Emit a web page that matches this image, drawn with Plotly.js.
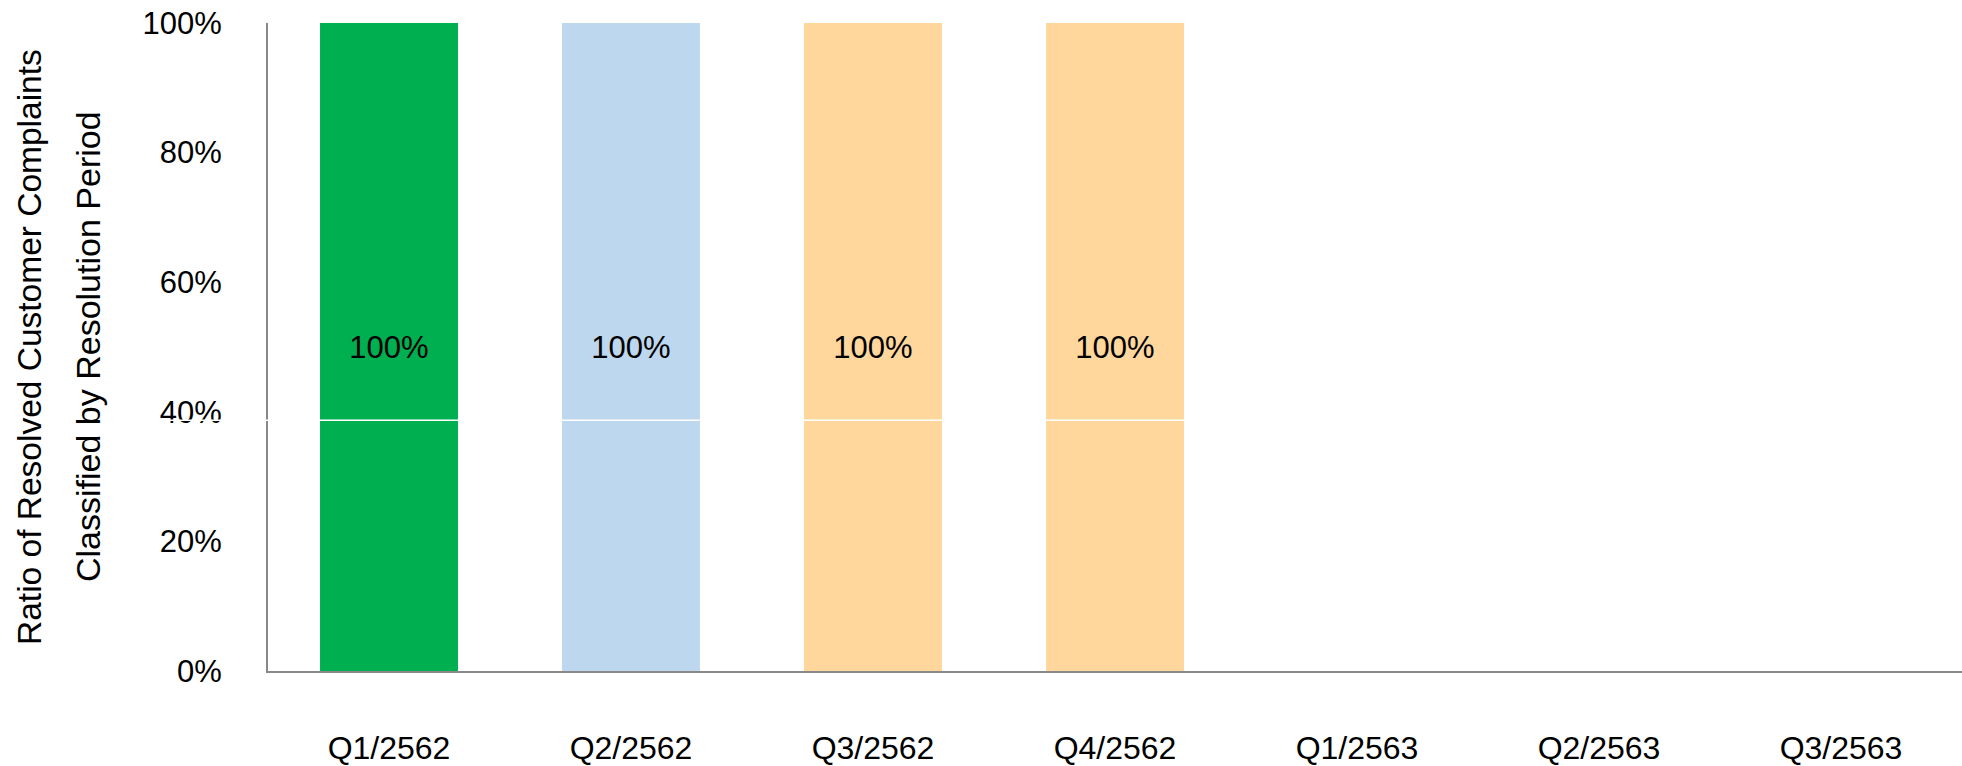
<!DOCTYPE html>
<html>
<head>
<meta charset="utf-8">
<script src="https://cdn.plot.ly/plotly-3.0.1.min.js"></script>
<style>
html,body{margin:0;padding:0;background:#fff;}
#chart{width:1962px;height:766px;}
</style>
</head>
<body>
<div id="chart"></div>
<script>
const categories = ["Q1/2562","Q2/2562","Q3/2562","Q4/2562","Q1/2563","Q2/2563","Q3/2563"];
const values = [100, 100, 100, 100, null, null, null];
const barColors = ["#00AF50","#BDD7EE","#FFD79D","#FFD79D","#FFD79D","#FFD79D","#FFD79D"];
const labels = ["100%","100%","100%","100%","","",""];
const yTickVals = [0, 20, 40, 60, 80, 100];
const yTickText = ["0%","20%","40%","60%","80%","100%"];
const titleLine1 = "Ratio of Resolved Customer Complaints";
const titleLine2 = "Classified by Resolution Period";

const W = 1962, L = 268, R = 0;
const plotW = W - L - R;
const font = "Liberation Sans, Arial, sans-serif";

const trace = {
  type: "bar",
  x: categories,
  y: values,
  marker: {color: barColors, line: {width: 0}},
  text: labels,
  textposition: "inside",
  insidetextanchor: "middle",
  textangle: 0,
  textfont: {family: font, size: 31, color: "#000"},
  hoverinfo: "skip",
  cliponaxis: false
};

const layout = {
  width: 1962,
  height: 766,
  margin: {l: L, r: R, t: 23, b: 95, pad: 0},
  paper_bgcolor: "#fff",
  plot_bgcolor: "#fff",
  showlegend: false,
  bargap: 0.43,
  font: {family: font, color: "#000"},
  xaxis: {
    type: "category",
    showgrid: false,
    zeroline: false,
    showline: true,
    linecolor: "#898989",
    linewidth: 2,
    ticks: "",
    ticklabelstandoff: 48,
    tickfont: {family: font, size: 32, color: "#000"},
    range: [-0.5, 6.5],
    fixedrange: true
  },
  yaxis: {
    range: [0, 100],
    tickvals: yTickVals,
    ticktext: yTickText,
    showgrid: false,
    zeroline: false,
    showline: true,
    linecolor: "#898989",
    linewidth: 2,
    ticks: "",
    ticklabelstandoff: 38,
    tickfont: {family: font, size: 31, color: "#000"},
    fixedrange: true
  },
  shapes: [{
    type: "line",
    xref: "paper", yref: "y",
    x0: -0.2, x1: 1, y0: 38.7, y1: 38.7,
    line: {color: "#ffffff", width: 1.5},
    layer: "above"
  }],
  annotations: [
    {
      text: titleLine1, textangle: -90,
      xref: "paper", yref: "paper",
      x: (29 - L) / plotW, y: 0.5,
      xanchor: "center", yanchor: "middle",
      showarrow: false,
      font: {family: font, size: 33.5, color: "#000"}
    },
    {
      text: titleLine2, textangle: -90,
      xref: "paper", yref: "paper",
      x: (88 - L) / plotW, y: 0.5,
      xanchor: "center", yanchor: "middle",
      showarrow: false,
      font: {family: font, size: 34, color: "#000"}
    }
  ]
};

Plotly.newPlot("chart", [trace], layout, {staticPlot: true, displayModeBar: false});
</script>
</body>
</html>
